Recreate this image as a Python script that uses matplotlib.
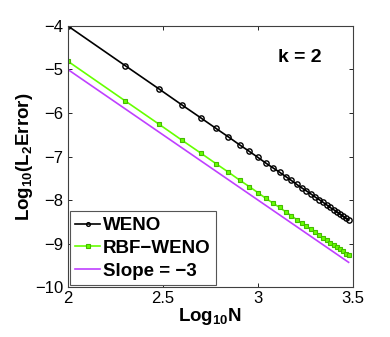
import numpy as np
import matplotlib
matplotlib.use("Agg")
import matplotlib.pyplot as plt

plt.rcParams["font.family"] = ["Liberation Sans", "DejaVu Sans"]
plt.rcParams["mathtext.fontset"] = "custom"
plt.rcParams["mathtext.rm"] = "Liberation Sans"
plt.rcParams["mathtext.bf"] = "Liberation Sans:bold"

# ---- данные ----
N = [100, 200, 300, 400, 500, 600, 700, 800, 900, 1000,
     1100, 1200, 1300, 1400, 1500, 1600, 1700, 1800, 1900, 2000,
     2100, 2200, 2300, 2400, 2500, 2600, 2700, 2800, 2900, 3000]
weno_err = [-4.00, -4.91, -5.44, -5.82, -6.11, -6.35, -6.55, -6.73, -6.88, -7.02,
            -7.15, -7.26, -7.36, -7.46, -7.55, -7.64, -7.72, -7.79, -7.86, -7.93,
            -7.99, -8.05, -8.11, -8.17, -8.22, -8.27, -8.32, -8.37, -8.42, -8.46]
rbf_err = [-4.81, -5.72, -6.25, -6.63, -6.92, -7.16, -7.36, -7.54, -7.69, -7.83,
           -7.96, -8.07, -8.17, -8.27, -8.36, -8.45, -8.53, -8.60, -8.67, -8.74,
           -8.80, -8.86, -8.92, -8.98, -9.03, -9.08, -9.13, -9.18, -9.23, -9.27]
slope_N = [100, 3000]
slope_err = [-5.00, -9.43]

x = np.log10(N)

fig = plt.figure(figsize=(3.9, 3.37), dpi=100)
ax = fig.add_axes([0.174, 0.148, 0.731, 0.775])

ax.plot(x, weno_err, color="black", lw=1.2, marker="o", ms=3.8,
        mfc="none", mec="black", mew=1.0, label="WENO")
ax.plot(x, rbf_err, color="#66ff00", lw=1.2, marker="s", ms=3.4,
        mfc="#66ff00", mec="#44bb00", mew=0.8, label="RBF\u2212WENO")
ax.plot(np.log10(slope_N), slope_err, color="#bf40ff", lw=1.2,
        label="Slope = \u22123")

ax.set_xlim(2, 3.5)
ax.set_ylim(-10, -4)
ax.set_xticks([2, 2.5, 3, 3.5])
ax.set_xticklabels(["2", "2.5", "3", "3.5"])
ax.set_yticks([-10, -9, -8, -7, -6, -5, -4])
ax.set_yticklabels(["\u221210", "\u22129", "\u22128", "\u22127", "\u22126", "\u22125", "\u22124"])
ax.tick_params(direction="in", top=True, right=True, labelsize=12, length=3, width=0.6, pad=3)
for s in ax.spines.values():
    s.set_color("#404040"); s.set_linewidth(0.8)

ax.set_xlabel(r"$\mathbf{Log_{10}N}$", fontsize=13.5, labelpad=0)
ax.set_ylabel(r"$\mathbf{Log_{10}(L_2Error)}$", fontsize=13.5, labelpad=0)
ax.text(0.89, 0.88, "k = 2", transform=ax.transAxes, fontsize=14,
        fontweight="bold", ha="right", va="center")

leg = ax.legend(loc="lower left", prop={"weight": "bold", "size": 13.5},
                fancybox=False, framealpha=1, edgecolor="#555555",
                numpoints=1, markerscale=0.7,
                handlelength=1.3, handletextpad=0.15, borderpad=0.3,
                labelspacing=0.3, borderaxespad=0.1)
leg.get_frame().set_linewidth(0.8)

fig.savefig("out.png", dpi=100)
